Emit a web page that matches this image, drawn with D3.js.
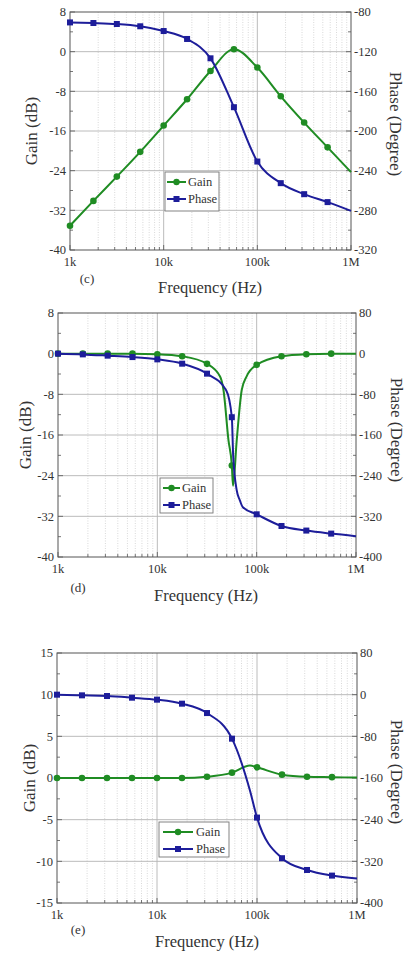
<!DOCTYPE html>
<html>
<head>
<meta charset="utf-8">
<script src="https://cdn.jsdelivr.net/npm/d3@7"></script>
<style>
  body { margin: 0; background: #fff; }
  svg { display: block; }
  text { font-family: "Liberation Serif", "Times New Roman", Times, "DejaVu Serif", serif; }
</style>
</head>
<body>
<svg id="chart" width="406" height="953"></svg>
<script>
// quarter-decade frequencies where markers sit
const markerFreqs = [1000, 1778, 3162, 5623, 10000, 17783, 31623, 56234, 100000, 177828, 316228, 562341]
const xTickValues = [1e3, 1e4, 1e5, 1e6]
const xTickLabels = ["1k", "10k", "100k", "1M"]

// panel (c)
const freqC = [1000, 1778, 3162, 5623, 10000, 17783, 31623, 56234, 100000, 177828, 316228, 562341, 1000000]
const gainC = [-35.1, -30.1, -25.2, -20.2, -14.9, -9.6, -3.9, 0.5, -3.2, -9.0, -14.3, -19.3, -24.3]
const phaseC = [-90.5, -91.1, -92.1, -94.4, -99.2, -107.2, -126.7, -176, -230.8, -252.6, -263.7, -271.7, -280.5]

// panel (d)
const freqGainD = [1000, 1778, 3162, 5623, 10000, 17783, 31623, 42800, 46300, 52000, 56234, 57800, 63000, 70800, 79000, 100000, 177828, 316228, 562341, 1000000]
const gainD = [0, 0, 0, 0, -0.1, -0.5, -2.0, -4.5, -7.1, -17, -22, -26, -17, -7.1, -4.5, -2.2, -0.5, -0.1, 0, 0]
const freqPhaseD = [1000, 1778, 3162, 5623, 10000, 17783, 31623, 49300, 56234, 58000, 63000, 67600, 72600, 100000, 177828, 316228, 562341, 1000000]
const phaseD = [0, -1.4, -3.9, -6.7, -11.2, -19.7, -39.3, -72, -125, -200, -269, -288, -302, -316, -339, -348, -354, -359]

// panel (e)
const freqE = [1000, 1778, 3162, 5623, 10000, 17783, 31623, 56234, 85000, 100000, 177828, 316228, 562341, 1000000]
const gainE = [0, 0, 0, 0, 0, 0, 0.15, 0.64, 1.5, 1.28, 0.4, 0.15, 0.1, 0.05]
const phaseE = [0, -1.3, -2.6, -5.8, -9.6, -17.3, -35.3, -84.5, -184, -236, -314, -336.6, -347.4, -353]

const legendNames = ["Gain", "Phase"]
const gainColor = "#1f8c23"
const phaseColor = "#1d1d9a"
const serif = '"Liberation Serif", "Times New Roman", Times, "DejaVu Serif", serif'

const svg = d3.select("#chart").attr("font-family", serif)

const panels = [
  {
    left: 70, right: 351, top: 12, bottom: 250,
    gainDomain: [-40, 8], gainStep: 8, phaseDomain: [-320, -80], phaseStep: 40,
    gain: { f: freqC, v: gainC }, phase: { f: freqC, v: phaseC },
    legend: { x0: 165, x1: 219, y0: 172, y1: 211, lineX0: 167, lineX1: 186, textX: 188, rows: [182, 199] },
    tag: "(c)", tagX: 87, tagY: 278, titleX: 210, titleY: 287, gainLabelX: 31, phaseLabelX: 396, phaseLabelY: 124
  },
  {
    left: 58, right: 356, top: 313, bottom: 557,
    gainDomain: [-40, 8], gainStep: 8, phaseDomain: [-400, 80], phaseStep: 80,
    gain: { f: freqGainD, v: gainD }, phase: { f: freqPhaseD, v: phaseD },
    legend: { x0: 160, x1: 213, y0: 478, y1: 513, lineX0: 163, lineX1: 180, textX: 182, rows: [488, 505] },
    tag: "(d)", tagX: 78, tagY: 587, titleX: 206, titleY: 595, gainLabelX: 25, phaseLabelX: 397, phaseLabelY: 430
  },
  {
    left: 57, right: 357, top: 653, bottom: 903,
    gainDomain: [-15, 15], gainStep: 5, phaseDomain: [-400, 80], phaseStep: 80,
    gain: { f: freqE, v: gainE }, phase: { f: freqE, v: phaseE },
    legend: { x0: 159, x1: 229, y0: 822, y1: 857, lineX0: 163, lineX1: 193, textX: 196, rows: [832, 849] },
    tag: "(e)", tagX: 78, tagY: 929, titleX: 207, titleY: 941, gainLabelX: 29, phaseLabelX: 397, phaseLabelY: 772
  }
]

function isMarker(f) {
  return markerFreqs.some(m => Math.abs(m - f) / m < 0.001)
}

function drawPanel(p) {
  const g = svg.append("g")
  const x = d3.scaleLog().domain([1e3, 1e6]).range([p.left, p.right])
  const yG = d3.scaleLinear().domain(p.gainDomain).range([p.bottom, p.top])
  const yP = d3.scaleLinear().domain(p.phaseDomain).range([p.bottom, p.top])

  const gainTicks = d3.range(p.gainDomain[0], p.gainDomain[1] + 0.01, p.gainStep)
  const phaseTicks = d3.range(p.phaseDomain[0], p.phaseDomain[1] + 0.01, p.phaseStep)
  const minorX = x.ticks().filter(t => !xTickValues.includes(t))
  const minorY = gainTicks.slice(0, -1).map(t => t + p.gainStep / 2)

  // grid
  g.selectAll(".minorGrid").data(minorX).join("line")
    .attr("x1", d => x(d)).attr("x2", d => x(d))
    .attr("y1", p.top).attr("y2", p.bottom)
    .attr("stroke", "#c8c8c8").attr("stroke-width", 0.7).attr("stroke-dasharray", "1,1.5")
  g.selectAll(".majorGridX").data(xTickValues.slice(1, -1)).join("line")
    .attr("x1", d => x(d)).attr("x2", d => x(d))
    .attr("y1", p.top).attr("y2", p.bottom)
    .attr("stroke", "#b4b4b4").attr("stroke-width", 0.9)
  g.selectAll(".majorGridY").data(gainTicks.slice(1, -1)).join("line")
    .attr("x1", p.left).attr("x2", p.right)
    .attr("y1", d => yG(d)).attr("y2", d => yG(d))
    .attr("stroke", "#b4b4b4").attr("stroke-width", 0.9)

  // ticks (inward)
  const tk = g.append("g").attr("stroke", "#555").attr("stroke-width", 0.8)
  minorX.forEach(t => tk.append("line").attr("x1", x(t)).attr("x2", x(t)).attr("y1", p.bottom).attr("y2", p.bottom - 3))
  xTickValues.forEach(t => tk.append("line").attr("x1", x(t)).attr("x2", x(t)).attr("y1", p.bottom).attr("y2", p.bottom - 5))
  gainTicks.forEach(t => {
    tk.append("line").attr("x1", p.left).attr("x2", p.left + 5).attr("y1", yG(t)).attr("y2", yG(t))
    tk.append("line").attr("x1", p.right).attr("x2", p.right - 5).attr("y1", yG(t)).attr("y2", yG(t))
  })
  minorY.forEach(t => {
    tk.append("line").attr("x1", p.left).attr("x2", p.left + 3).attr("y1", yG(t)).attr("y2", yG(t))
    tk.append("line").attr("x1", p.right).attr("x2", p.right - 3).attr("y1", yG(t)).attr("y2", yG(t))
  })

  // frame
  g.append("rect")
    .attr("x", p.left).attr("y", p.top)
    .attr("width", p.right - p.left).attr("height", p.bottom - p.top)
    .attr("fill", "none").attr("stroke", "#555").attr("stroke-width", 1)

  // tick labels
  const lab = g.append("g").attr("font-size", 12.5).attr("fill", "#333")
  gainTicks.forEach(t => lab.append("text")
    .attr("x", p.left - 4).attr("y", yG(t)).attr("dy", "0.35em")
    .attr("text-anchor", "end").text(t))
  phaseTicks.forEach(t => lab.append("text")
    .attr("x", p.right + 3).attr("y", yP(t)).attr("dy", "0.35em")
    .attr("text-anchor", "start").text(t))
  xTickValues.forEach((t, i) => lab.append("text")
    .attr("x", x(t)).attr("y", p.bottom + 12).attr("dy", "0.35em")
    .attr("text-anchor", "middle").text(xTickLabels[i]))

  // series
  const line = d3.line().curve(d3.curveMonotoneX)
  const series = [
    { s: p.gain, y: yG, color: gainColor, shape: "circle" },
    { s: p.phase, y: yP, color: phaseColor, shape: "square" }
  ]
  series.forEach(sr => {
    const pts = sr.s.f.map((f, i) => [x(f), sr.y(sr.s.v[i])])
    g.append("path").attr("d", line(pts))
      .attr("fill", "none").attr("stroke", sr.color).attr("stroke-width", 2)
    const mk = pts.filter((d, i) => isMarker(sr.s.f[i]))
    if (sr.shape === "circle") {
      g.selectAll(null).data(mk).join("circle")
        .attr("cx", d => d[0]).attr("cy", d => d[1]).attr("r", 3.3)
        .attr("fill", sr.color)
    } else {
      g.selectAll(null).data(mk).join("rect")
        .attr("x", d => d[0] - 3).attr("y", d => d[1] - 3)
        .attr("width", 6).attr("height", 6).attr("fill", sr.color)
    }
  })

  // legend
  const L = p.legend
  const lg = g.append("g")
  lg.append("rect").attr("x", L.x0).attr("y", L.y0)
    .attr("width", L.x1 - L.x0).attr("height", L.y1 - L.y0)
    .attr("fill", "#fff").attr("stroke", "#777").attr("stroke-width", 0.9)
  legendNames.forEach((name, i) => {
    const cy = L.rows[i]
    const color = i === 0 ? gainColor : phaseColor
    const mx = (L.lineX0 + L.lineX1) / 2
    lg.append("line").attr("x1", L.lineX0).attr("x2", L.lineX1).attr("y1", cy).attr("y2", cy)
      .attr("stroke", color).attr("stroke-width", 2)
    if (i === 0) lg.append("circle").attr("cx", mx).attr("cy", cy).attr("r", 3.2).attr("fill", color)
    else lg.append("rect").attr("x", mx - 3).attr("y", cy - 3).attr("width", 6).attr("height", 6).attr("fill", color)
    lg.append("text").attr("x", L.textX).attr("y", cy).attr("dy", "0.35em")
      .attr("font-size", 12.5).attr("fill", "#333").text(name)
  })

  // titles
  g.append("text").attr("x", p.tagX).attr("y", p.tagY).attr("dy", "0.35em")
    .attr("text-anchor", "middle").attr("font-size", 13).attr("fill", "#333").text(p.tag)
  g.append("text").attr("x", p.titleX).attr("y", p.titleY).attr("dy", "0.35em")
    .attr("text-anchor", "middle").attr("font-size", 16.5).attr("fill", "#333").text("Frequency (Hz)")
  const midY = (p.top + p.bottom) / 2
  g.append("text").attr("transform", `translate(${p.gainLabelX},${midY}) rotate(-90)`)
    .attr("dy", "0.35em").attr("text-anchor", "middle")
    .attr("font-size", 17).attr("fill", "#333").text("Gain (dB)")
  g.append("text").attr("transform", `translate(${p.phaseLabelX},${p.phaseLabelY}) rotate(90)`)
    .attr("dy", "0.35em").attr("text-anchor", "middle")
    .attr("font-size", 17).attr("fill", "#333").text("Phase (Degree)")
}

panels.forEach(drawPanel)
</script>
</body>
</html>
